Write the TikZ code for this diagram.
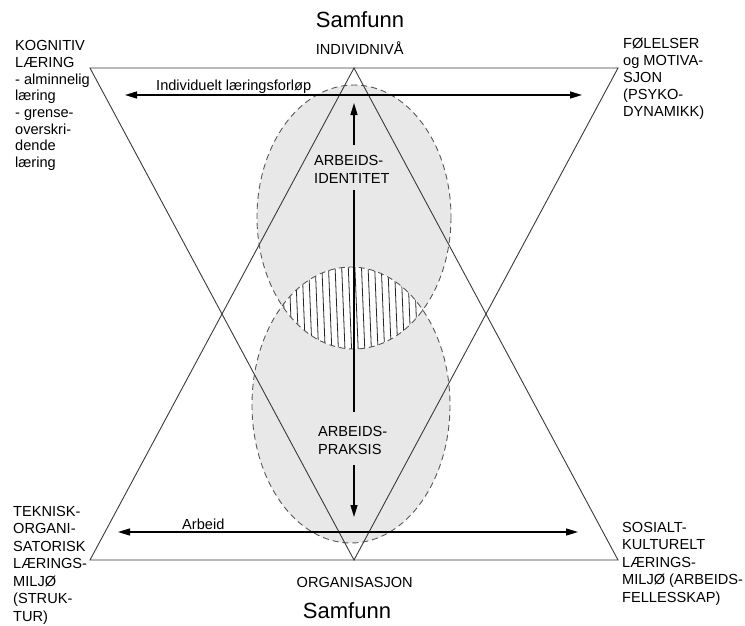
\documentclass[tikz,border=0pt]{standalone}
\usepackage{fontspec}
\setmainfont{Liberation Sans}
\usetikzlibrary{arrows.meta}
\definecolor{ellfill}{HTML}{E8E8E8}
\definecolor{linegray}{HTML}{3A3A3A}
\begin{document}
\begin{tikzpicture}[x=1pt,y=-1pt,
  tri/.style={draw=linegray, line width=0.9pt, line join=miter},
  ell/.style={draw=linegray!85, line width=0.9pt, dash pattern=on 6pt off 4pt},
  arrline/.style={draw=black, line width=1.3pt},
  onetip/.style={arrline, -{Triangle[length=12pt,width=7pt]}},
  twotips/.style={arrline, {Triangle[length=12pt,width=7pt]}-{Triangle[length=12pt,width=7pt]}},
  lbl/.style={font=\fontsize{14.6}{17.2}\selectfont, inner sep=0pt, align=left, anchor=base west},
  ctr/.style={font=\fontsize{14.6}{17.2}\selectfont, inner sep=0pt, anchor=base},
  big/.style={font=\fontsize{22}{26}\selectfont, inner sep=0pt, anchor=base}]
\useasboundingbox (0,0) rectangle (745,625);

% triangle corners
\coordinate (tl) at (90,68);
\coordinate (tr) at (618,68);
\coordinate (tapex) at (354,68);
\coordinate (bl) at (90,560);
\coordinate (br) at (618,560);
\coordinate (bapex) at (354,560);

% ellipses
\fill[ellfill] (354,217) ellipse [x radius=97, y radius=132];
\fill[ellfill] (351,405) ellipse [x radius=99, y radius=138];
\begin{scope}
  \clip (354,217) ellipse [x radius=97, y radius=132];
  \clip (351,405) ellipse [x radius=99, y radius=138];
  \fill[white] (240,250) rectangle (470,360);
  \foreach \i in {0,...,34}
    \draw[line width=0.8pt, black!85] (262+6.6*\i,255) -- (266+6.6*\i,355);
\end{scope}
\draw[ell] (354,217) ellipse [x radius=97, y radius=132];
\draw[ell] (351,405) ellipse [x radius=99, y radius=138];

% triangles
\draw[tri] (tl) -- (tr) -- (bapex) -- cycle;
\draw[tri] (bl) -- (br) -- (tapex) -- cycle;

% horizontal arrows
\coordinate (hl1) at (125,95);
\coordinate (hr1) at (582,95);
\coordinate (hl2) at (118,532);
\coordinate (hr2) at (578,532);
\draw[twotips] (hl1) -- (hr1);
\draw[twotips] (hl2) -- (hr2);
\node[lbl] (forlop) at (156,90.7) {Individuelt læringsforløp};
\node[lbl] (arbeid) at (182,529) {Arbeid};

% central labels (base anchor = last line)
\node[lbl] (ident) at (314,183) {ARBEIDS-\\IDENTITET};
\node[lbl] (praksis) at (318,454) {ARBEIDS-\\PRAKSIS};

% vertical arrow
\coordinate (v1) at (354,145);
\coordinate (v1t) at (354,103);
\coordinate (v2) at (354,190);
\coordinate (v3) at (354,412);
\coordinate (v4) at (354,465);
\coordinate (v4t) at (354,517);
\draw[onetip] (v1) -- (v1t);
\draw[arrline] (v2) -- (v3);
\draw[onetip] (v4) -- (v4t);

% titles
\node[big] (samtop) at (360,27.7) {Samfunn};
\node[ctr] (indiv) at (359.7,54) {INDIVIDNIVÅ};
\node[ctr] (org) at (354.7,587.7) {ORGANISASJON};
\node[big] (sambot) at (347,618) {Samfunn};

% corner texts (base anchor = last line)
\node[lbl, font=\fontsize{14.6}{16.7}\selectfont] (kogn) at (15,167.6)
  {KOGNITIV\\LÆRING\\- alminnelig\\læring\\- grense-\\overskri-\\dende\\læring};
\node[lbl, font=\fontsize{14.6}{17}\selectfont] (fol) at (623,116)
  {FØLELSER\\og MOTIVA-\\SJON\\(PSYKO-\\DYNAMIKK)};
\node[lbl, font=\fontsize{14.6}{17.5}\selectfont] (tek) at (13,621)
  {TEKNISK-\\ORGANI-\\SATORISK\\LÆRINGS-\\MILJØ\\(STRUK-\\TUR)};
\node[lbl, font=\fontsize{14.6}{17.5}\selectfont] (sos) at (622,602)
  {SOSIALT-\\KULTURELT\\LÆRINGS-\\MILJØ (ARBEIDS-\\FELLESSKAP)};
\end{tikzpicture}
\end{document}
